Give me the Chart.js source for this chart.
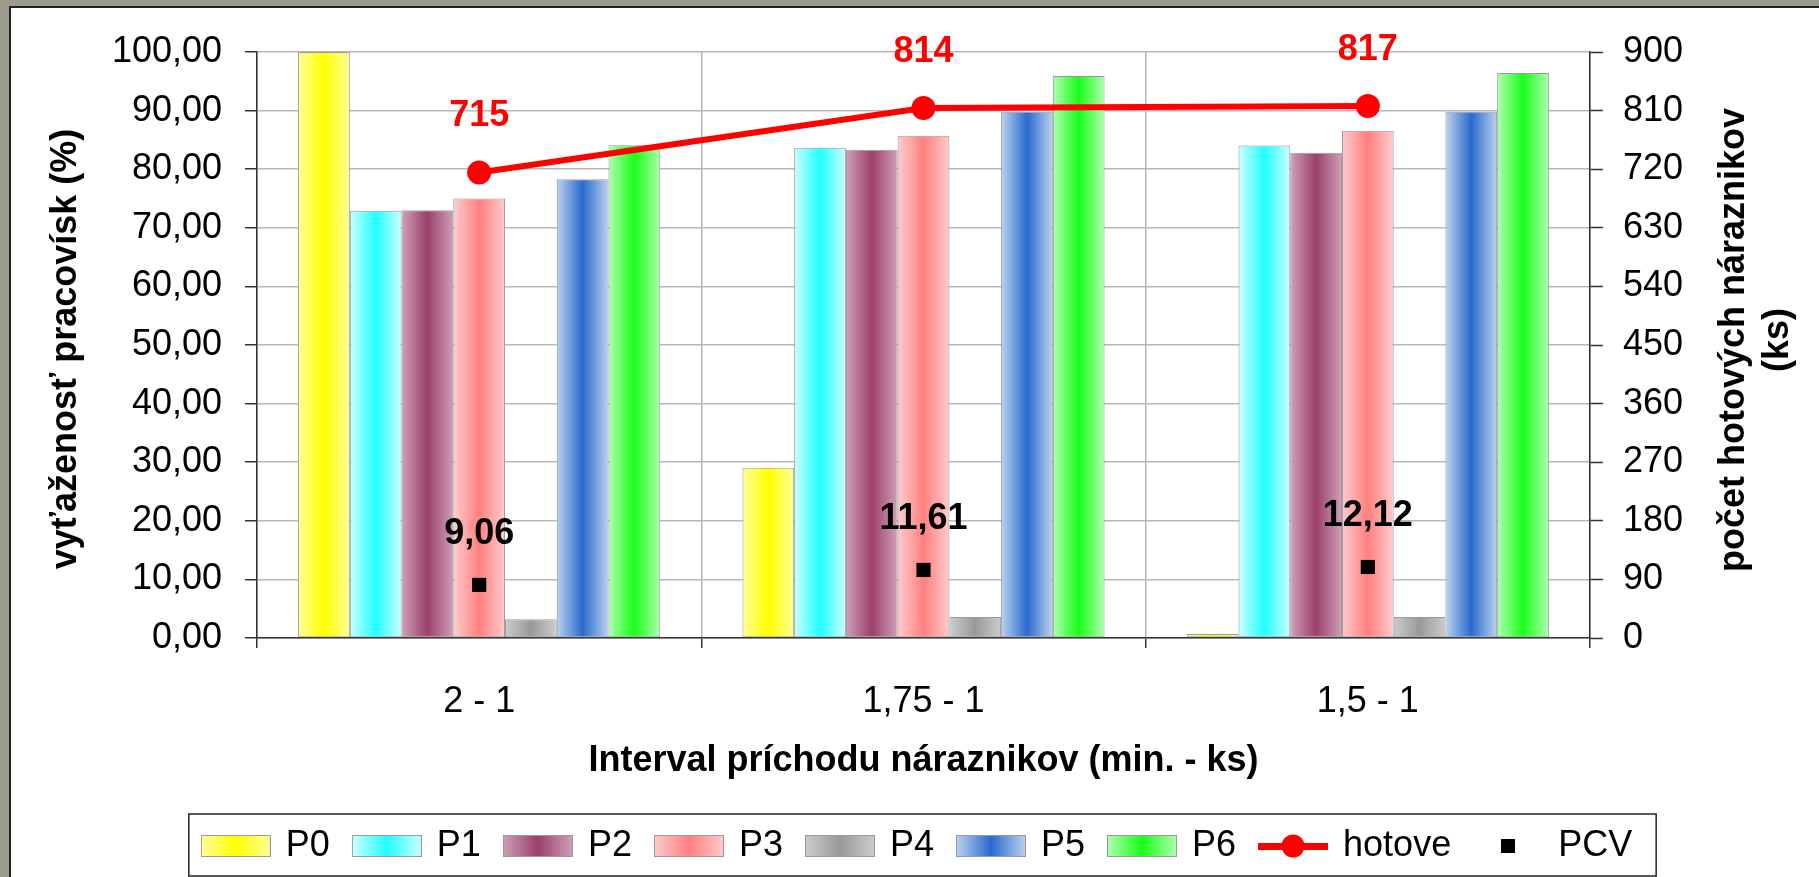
<!DOCTYPE html>
<html>
<head>
<meta charset="utf-8">
<script src="https://cdn.jsdelivr.net/npm/chart.js@4.4.1/dist/chart.umd.min.js"></script>
<style>
  html, body { margin: 0; padding: 0; background: #9c9a8b; }
  #wrap { position: relative; width: 1819px; height: 877px; }
</style>
</head>
<body>
<div id="wrap"><canvas id="chart"></canvas></div>
<script>
// Categories: arrival interval of bumpers (min. - pcs)
const categories = ['2 - 1', '1,75 - 1', '1,5 - 1'];

// Workstation utilisation (%)
const p0 = [100.0, 29.05, 0.7];
const p1 = [72.9, 83.65, 84.05];
const p2 = [73.0, 83.3, 82.8];
const p3 = [75.0, 85.7, 86.55];
const p4 = [3.2, 3.6, 3.6];
const p5 = [78.3, 89.8, 89.8];
const p6 = [84.1, 95.9, 96.4];

// Finished bumpers (pcs) and PCV
const hotove = [715, 814, 817];
const pcv = [9.06, 11.61, 12.12];

// Axis tick ranges
const leftTicks = { min: 0, max: 100, step: 10 };
const rightTicks = { min: 0, max: 900, step: 90 };

const barNames = ['P0', 'P1', 'P2', 'P3', 'P4', 'P5', 'P6'];
const barValues = [p0, p1, p2, p3, p4, p5, p6];
const barEdge   = ['#ffff99', '#ccffff', '#cfa0b8', '#ffcccc', '#cccccc', '#bcd2ef', '#b0ffb0'];
const barCenter = ['#ffff00', '#22ffff', '#9b406c', '#ff8080', '#999999', '#2a6acd', '#19ff19'];

const FONT = "'Liberation Sans', Arial, Helvetica, sans-serif";
const yTitle = 'vyťaženosť pracovísk (%)';
const y1Title = ['počet hotových náraznikov', '(ks)'];
const xTitle = 'Interval príchodu náraznikov (min. - ks)';

const fmtComma = v => v.toFixed(2).replace('.', ',');

// Legend icons
function swatch(edge, center) {
  const c = document.createElement('canvas');
  c.width = 70; c.height = 22;
  const g = c.getContext('2d');
  const gr = g.createLinearGradient(0, 0, 70, 0);
  gr.addColorStop(0, edge); gr.addColorStop(0.5, center); gr.addColorStop(1, edge);
  g.fillStyle = gr; g.fillRect(0, 0, 70, 22);
  g.strokeStyle = '#9a9a9a'; g.lineWidth = 1; g.strokeRect(0.5, 0.5, 69, 21);
  return c;
}
function lineIcon() {
  const c = document.createElement('canvas');
  c.width = 70; c.height = 26;
  const g = c.getContext('2d');
  g.fillStyle = '#ff0000';
  g.fillRect(0, 10, 70, 7);
  g.beginPath(); g.arc(35, 13, 11.5, 0, Math.PI * 2); g.fill();
  return c;
}
function squareIcon() {
  const c = document.createElement('canvas');
  c.width = 14; c.height = 14;
  const g = c.getContext('2d');
  g.fillStyle = '#000'; g.fillRect(0, 0, 14, 14);
  return c;
}
const legendIcons = barEdge.map((e, i) => swatch(e, barCenter[i])).concat([lineIcon(), squareIcon()]);

// Gray frame with white sheet
const framePlugin = {
  id: 'frame',
  beforeDraw(chart) {
    const { ctx, width, height } = chart;
    ctx.save();
    ctx.fillStyle = '#9c9a8b'; ctx.fillRect(0, 0, width, height);
    ctx.fillStyle = '#ffffff'; ctx.fillRect(9, 6, width - 9, height - 6);
    ctx.fillStyle = '#222222';
    ctx.fillRect(9, 6, 2, height - 6);
    ctx.fillRect(9, 6, width - 9, 2);
    ctx.restore();
  }
};

// Horizontal gradient fill for each bar
const barGradientPlugin = {
  id: 'barGradient',
  beforeDatasetsDraw(chart) {
    const ctx = chart.ctx;
    chart.data.datasets.forEach((ds, i) => {
      if (ds.type !== 'bar') return;
      chart.getDatasetMeta(i).data.forEach(el => {
        const half = el.width / 2;
        const g = ctx.createLinearGradient(el.x - half, 0, el.x + half, 0);
        g.addColorStop(0, barEdge[i]);
        g.addColorStop(0.5, barCenter[i]);
        g.addColorStop(1, barEdge[i]);
        el.options = Object.assign({}, el.options, { backgroundColor: g });
      });
    });
  }
};

// Value labels for hotove and PCV
const valueLabelPlugin = {
  id: 'valueLabels',
  afterDatasetsDraw(chart) {
    const ctx = chart.ctx;
    ctx.save();
    ctx.font = 'bold 36px ' + FONT;
    ctx.textAlign = 'center';
    ctx.textBaseline = 'middle';
    const lineIdx = chart.data.datasets.findIndex(d => d.label === 'hotove');
    const pcvIdx = chart.data.datasets.findIndex(d => d.label === 'PCV');
    ctx.fillStyle = '#ff0000';
    chart.getDatasetMeta(lineIdx).data.forEach((pt, i) => {
      ctx.fillText(String(hotove[i]), pt.x, pt.y - 56);
    });
    ctx.fillStyle = '#000000';
    chart.getDatasetMeta(pcvIdx).data.forEach((pt, i) => {
      ctx.fillText(fmtComma(pcv[i]), pt.x, pt.y - 51);
    });
    ctx.restore();
  }
};

// Axis titles and legend frame
const titlesPlugin = {
  id: 'titles',
  afterDraw(chart) {
    const { ctx, chartArea: a } = chart;
    ctx.save();
    ctx.fillStyle = '#000';
    ctx.font = 'bold 36px ' + FONT;
    ctx.textAlign = 'center';
    ctx.textBaseline = 'middle';
    ctx.fillText(xTitle, (a.left + a.right) / 2, a.bottom + 123);

    ctx.save();
    ctx.translate(a.left - 191, (a.top + a.bottom) / 2 + 4);
    ctx.rotate(-Math.PI / 2);
    ctx.fillText(yTitle, 0, 0);
    ctx.restore();

    ctx.save();
    ctx.translate(a.right + 144, (a.top + a.bottom) / 2 - 5);
    ctx.rotate(-Math.PI / 2);
    ctx.fillText(y1Title[0], 0, 0);
    ctx.fillText(y1Title[1], 0, 44);
    ctx.restore();

    const lg = chart.legend;
    const hb = lg.legendHitBoxes;
    if (hb && hb.length) {
      const first = hb[0], last = hb[hb.length - 1];
      const left = first.left - 15;
      const right = last.left + last.width + 24;
      const top = lg.top + 11;
      ctx.strokeStyle = '#222';
      ctx.lineWidth = 1.5;
      ctx.strokeRect(left, top, right - left, chart.height - 1 - top);
    }
    ctx.restore();
  }
};

const datasets = barValues.map((vals, i) => ({
  type: 'bar',
  label: barNames[i],
  data: vals,
  yAxisID: 'y',
  backgroundColor: barCenter[i],
  borderColor: '#9a9a9a',
  borderWidth: 1,
  borderSkipped: false,
  order: 2
}));
datasets.push({
  type: 'line',
  label: 'hotove',
  data: hotove,
  yAxisID: 'y1',
  borderColor: '#ff0000',
  backgroundColor: '#ff0000',
  borderWidth: 6,
  tension: 0,
  pointStyle: 'circle',
  pointRadius: 12,
  pointBackgroundColor: '#ff0000',
  pointBorderWidth: 0,
  order: 1
});
datasets.push({
  type: 'line',
  label: 'PCV',
  data: pcv,
  yAxisID: 'y',
  showLine: false,
  borderColor: '#000',
  backgroundColor: '#000',
  pointStyle: 'rect',
  pointRadius: 10,
  pointBackgroundColor: '#000',
  pointBorderWidth: 0,
  order: 0
});

const tickFont = { family: FONT, size: 36 };

new Chart(document.getElementById('chart'), {
  data: { labels: categories, datasets },
  options: {
    responsive: true,
    maintainAspectRatio: false,
    devicePixelRatio: 1,
    animation: false,
    events: [],
    layout: { padding: { left: 17, right: 0, top: 52, bottom: 3 } },
    datasets: {
      bar: { categoryPercentage: 0.815, barPercentage: 1.0 }
    },
    plugins: {
      tooltip: { enabled: false },
      legend: {
        position: 'bottom',
        labels: {
          usePointStyle: true,
          pointStyleWidth: 64,
          padding: 25,
          color: '#000',
          font: { family: FONT, size: 36 },
          generateLabels(chart) {
            const items = Chart.defaults.plugins.legend.labels.generateLabels(chart);
            items.forEach(it => { it.pointStyle = legendIcons[it.datasetIndex]; });
            items.sort((a, b) => a.datasetIndex - b.datasetIndex);
            return items;
          }
        }
      }
    },
    scales: {
      x: {
        type: 'category',
        offset: true,
        grid: { offset: true, color: '#b8b8b8', lineWidth: 1.5, tickColor: '#333', tickLength: 10, tickWidth: 1.5 },
        border: { color: '#333', width: 1.5 },
        ticks: { font: tickFont, color: '#000', padding: 32, maxRotation: 0, autoSkip: false },
        afterFit(s) { s.height = 165; }
      },
      y: {
        position: 'left',
        min: leftTicks.min,
        max: leftTicks.max,
        ticks: { stepSize: leftTicks.step, callback: v => fmtComma(v), font: tickFont, color: '#000', padding: 23 },
        grid: { color: '#b8b8b8', lineWidth: 1.5, tickColor: '#333', tickLength: 12, tickWidth: 1.5 },
        border: { color: '#333', width: 1.5 },
        afterFit(s) { s.width = 240; }
      },
      y1: {
        position: 'right',
        min: rightTicks.min,
        max: rightTicks.max,
        ticks: { stepSize: rightTicks.step, font: tickFont, color: '#000', padding: 20 },
        grid: { drawOnChartArea: false, tickColor: '#333', tickLength: 13, tickWidth: 1.5 },
        border: { color: '#333', width: 1.5 },
        afterFit(s) { s.width = 229; }
      }
    }
  },
  plugins: [framePlugin, barGradientPlugin, valueLabelPlugin, titlesPlugin]
});
</script>
</body>
</html>
